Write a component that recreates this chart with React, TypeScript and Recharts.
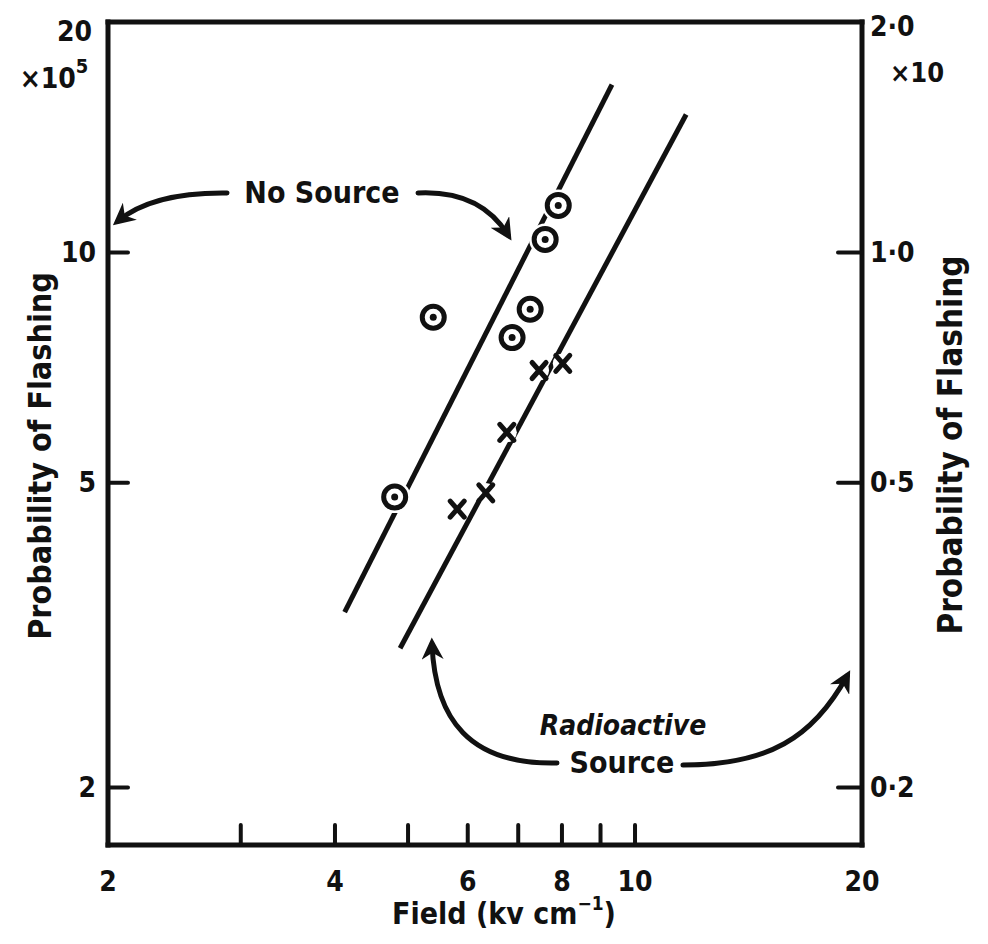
import { ScatterChart, Scatter, XAxis, YAxis, ReferenceLine, Customized } from 'recharts'

// field (kV/cm) and flashing probability (x10^5)
const noSourceField = [4.8, 5.4, 6.87, 7.26, 7.6, 7.91]
const noSourceProb = [4.79, 8.23, 7.74, 8.43, 10.4, 11.52]
const radioField = [5.81, 6.34, 6.76, 7.46, 8.02]
const radioProb = [4.62, 4.85, 5.82, 7.01, 7.16]

// fitted lines, end points
const noSourceFit = [
  { x: 4.12, y: 3.39 },
  { x: 9.32, y: 16.57 },
]
const radioFit = [
  { x: 4.88, y: 3.04 },
  { x: 11.69, y: 15.14 },
]

const xTicks = [2, 3, 4, 5, 6, 7, 8, 9, 10, 20]
const xTickMarks = [3, 4, 5, 6, 7, 8, 9, 10]
const xTickLabels = [2, 4, 6, 8, 10, 20]
const leftTicks = [2, 5, 10, 20]
const leftTickMarks = [2, 5, 10]
const rightTicks = [0.2, 0.5, 1, 2]
const rightTickMarks = [0.2, 0.5, 1]
const rightTickLabels: Record<string, string> = { '0.2': '0·2', '0.5': '0·5', '1': '1·0', '2': '2·0' }

const noSourceData = noSourceField.map((x, i) => ({ x, y: noSourceProb[i] }))
const radioData = radioField.map((x, i) => ({ x, y: radioProb[i] }))

const FONT = '"DejaVu Sans Condensed", "DejaVu Sans", sans-serif'
const INK = '#111'

function BottomTick({ x, y, payload }: any) {
  const v = payload.value
  return (
    <g>
      {xTickMarks.includes(v) && (
        <line x1={x} y1={y} x2={x} y2={y - 20} stroke={INK} strokeWidth={4} strokeLinecap="round" />
      )}
      {xTickLabels.includes(v) && (
        <text x={x} y={y + 36} textAnchor="middle" dominantBaseline="central" fontFamily={FONT} fontWeight="bold" fontSize={28} fill={INK}>
          {v}
        </text>
      )}
    </g>
  )
}

function TopTick({ x, y, payload }: any) {
  if (!xTickMarks.includes(payload.value)) return <g />
  return <line x1={x} y1={y} x2={x} y2={y + 16} stroke={INK} strokeWidth={4} strokeLinecap="round" />
}

function LeftTick({ x, y, payload }: any) {
  const v = payload.value
  return (
    <g>
      {leftTickMarks.includes(v) && (
        <line x1={x} y1={y} x2={x + 20} y2={y} stroke={INK} strokeWidth={4} strokeLinecap="round" />
      )}
      <text x={v === 20 ? x - 16 : x - 12} y={v === 20 ? y + 9 : y} textAnchor="end" dominantBaseline="central" fontFamily={FONT} fontWeight="bold" fontSize={28} fill={INK}>
        {v}
      </text>
    </g>
  )
}

function RightTick({ x, y, payload }: any) {
  const v = payload.value
  return (
    <g>
      {rightTickMarks.includes(v) && (
        <line x1={x} y1={y} x2={x - 24} y2={y} stroke={INK} strokeWidth={4} strokeLinecap="round" />
      )}
      <text x={x + 8} y={v === 2 ? y + 4 : y} textAnchor="start" dominantBaseline="central" fontFamily={FONT} fontWeight="bold" fontSize={28} fill={INK}>
        {rightTickLabels[String(v)]}
      </text>
    </g>
  )
}

function RingDot({ cx, cy }: any) {
  return (
    <g>
      <circle cx={cx} cy={cy} r={16} fill="#fff" />
      <circle cx={cx} cy={cy} r={11} fill="#fff" stroke={INK} strokeWidth={5} />
      <circle cx={cx} cy={cy} r={3.5} fill={INK} />
    </g>
  )
}

function Cross({ cx, cy }: any) {
  return (
    <g>
      <circle cx={cx} cy={cy} r={10} fill="#fff" />
      <line x1={cx - 7} y1={cy - 8} x2={cx + 7} y2={cy + 8} stroke={INK} strokeWidth={5} strokeLinecap="round" />
      <line x1={cx + 7} y1={cy - 8} x2={cx - 7} y2={cy + 8} stroke={INK} strokeWidth={5} strokeLinecap="round" />
    </g>
  )
}

// arrows, labels and axis titles, in chart pixels
function Annotations() {
  const txt = { fontFamily: FONT, fontWeight: 'bold' as const, fill: INK }
  const arrow = { fill: 'none', stroke: INK, strokeWidth: 5, strokeLinecap: 'round' as const, markerEnd: 'url(#head)' }
  return (
    <g>
      <defs>
        <marker id="head" viewBox="0 0 10 10" refX="7" refY="5" markerWidth="22" markerHeight="22" markerUnits="userSpaceOnUse" orient="auto">
          <path d="M0,0 L10,5 L0,10 L3,5 Z" fill={INK} />
        </marker>
      </defs>
      <text x={314} y={184} textAnchor="middle" dominantBaseline="central" fontSize={30} {...txt}>No Source</text>
      <path d="M219,185 Q145,184 110,213" {...arrow} />
      <path d="M410,185 Q472,182 500,227" {...arrow} />

      <text x={615} y={717} textAnchor="middle" dominantBaseline="central" fontSize={28} fontStyle="italic" {...txt}>Radioactive</text>
      <text x={614} y={754} textAnchor="middle" dominantBaseline="central" fontSize={30} {...txt}>Source</text>
      <path d="M549,755 C462,757 427,712 424,636" {...arrow} />
      <path d="M675,757 C760,757 805,730 839,668" {...arrow} />

      <text x={46} y={70} textAnchor="middle" dominantBaseline="central" fontSize={28} {...txt}>
        ×10<tspan dy={-12} fontSize={20}>5</tspan>
      </text>
      <text x={909} y={64} textAnchor="middle" dominantBaseline="central" fontSize={27} {...txt}>×10</text>

      <text x={496} y={905} textAnchor="middle" dominantBaseline="central" fontSize={30} {...txt}>
        Field (kv cm<tspan dy={-10} fontSize={19}>−1</tspan><tspan dy={10}>)</tspan>
      </text>
      <text transform="translate(32,448) rotate(-90)" textAnchor="middle" dominantBaseline="central" fontSize={32} {...txt}>
        Probability of Flashing
      </text>
      <text transform="translate(942,437) rotate(-90)" textAnchor="middle" dominantBaseline="central" fontSize={33} {...txt}>
        Probability of Flashing
      </text>
    </g>
  )
}

const axisLine = { stroke: INK, strokeWidth: 5, strokeLinecap: 'square' as const }

export default function App() {
  return (
    <div style={{ background: '#fff' }}>
      <ScatterChart width={972} height={928} margin={{ top: 0, right: 0, bottom: 0, left: 0 }}>
        <XAxis
          dataKey="x"
          type="number"
          scale="log"
          domain={[2, 20]}
          allowDataOverflow
          ticks={xTicks}
          interval={0}
          height={91}
          tickSize={0}
          tickMargin={0}
          axisLine={axisLine}
          tickLine={false}
          tick={<BottomTick />}
        />
        <XAxis
          xAxisId="top"
          orientation="top"
          type="number"
          scale="log"
          domain={[2, 20]}
          allowDataOverflow
          ticks={xTicks}
          interval={0}
          height={14}
          tickSize={0}
          tickMargin={0}
          axisLine={axisLine}
          tickLine={false}
          tick={<TopTick />}
        />
        <YAxis
          dataKey="y"
          type="number"
          scale="log"
          domain={[1.682, 20]}
          allowDataOverflow
          ticks={leftTicks}
          interval={0}
          width={100}
          tickSize={0}
          tickMargin={0}
          axisLine={axisLine}
          tickLine={false}
          tick={<LeftTick />}
        />
        <YAxis
          yAxisId="right"
          orientation="right"
          type="number"
          scale="log"
          domain={[0.1682, 2]}
          allowDataOverflow
          ticks={rightTicks}
          interval={0}
          width={118}
          tickSize={0}
          tickMargin={0}
          axisLine={axisLine}
          tickLine={false}
          tick={<RightTick />}
        />
        <ReferenceLine segment={noSourceFit} stroke={INK} strokeWidth={5} ifOverflow="visible" />
        <ReferenceLine segment={radioFit} stroke={INK} strokeWidth={5} ifOverflow="visible" />
        <Scatter data={radioData} shape={<Cross />} isAnimationActive={false} />
        <Scatter data={noSourceData} shape={<RingDot />} isAnimationActive={false} />
        <Scatter data={[]} xAxisId="top" yAxisId="right" isAnimationActive={false} />
        <Customized component={<Annotations />} />
      </ScatterChart>
    </div>
  )
}
